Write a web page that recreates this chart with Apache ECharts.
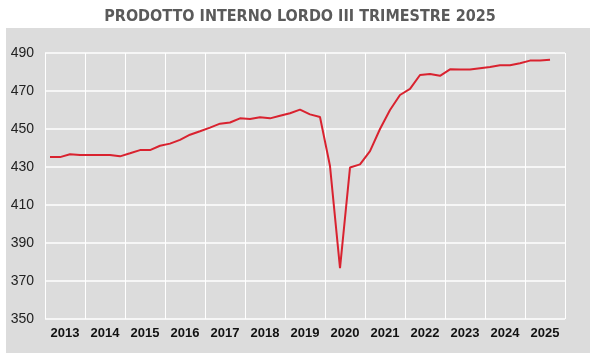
<!DOCTYPE html>
<html>
<head>
<meta charset="utf-8">
<script src="https://cdn.jsdelivr.net/npm/echarts@6/dist/echarts.min.js"></script>
<style>html,body{margin:0;padding:0;background:#fff}#c{width:600px;height:360px}</style>
</head>
<body>
<div id="c"></div>
<script>
var titleText = 'PRODOTTO INTERNO LORDO III TRIMESTRE 2025';
var years = ['2013','2014','2015','2016','2017','2018','2019','2020','2021','2022','2023','2024','2025'];
var startYear = 2013;
// Quarterly GDP values, 2013 Q1 .. 2025 Q3
var gdp = [
  435.3, 435.2, 436.7, 436.3,
  436.3, 436.3, 436.3, 435.6,
  437.2, 438.9, 438.9, 441.2,
  442.3, 444.3, 447.0, 448.8,
  450.7, 452.8, 453.4, 455.6,
  455.3, 456.2, 455.6, 457.0,
  458.3, 460.2, 457.7, 456.3,
  430.5, 376.8, 429.7, 431.4,
  438.4, 450.0, 460.0, 467.9,
  471.1, 478.4, 479.0, 478.0,
  481.4, 481.3, 481.3, 482.0,
  482.6, 483.5, 483.5, 484.6,
  486.0, 486.0, 486.5
];
var yTicks = { min: 350, max: 490, step: 20 };

var points = gdp.map(function (v, i) { return [startYear + (i + 0.5) / 4, v]; });
var narrow = "'Liberation Sans Narrow', 'Arial Narrow', 'Liberation Sans', Arial, sans-serif";
var cond = "'DejaVu Sans Condensed', 'Liberation Sans', Arial, sans-serif";

var chart = echarts.init(document.getElementById('c'), null, { renderer: 'canvas' });
chart.setOption({
  animation: false,
  backgroundColor: '#ffffff',
  graphic: [{
    type: 'rect', z: -10, silent: true,
    shape: { x: 6, y: 28, width: 584, height: 325 },
    style: { fill: '#dcdcdc' }
  }],
  title: {
    text: titleText, left: 'center', top: 4,
    textStyle: { fontFamily: cond, fontWeight: 'bold', fontSize: 16, color: '#5a5a5a' }
  },
  grid: { left: 45, right: 35, top: 53, bottom: 41 },
  xAxis: [{
    type: 'value', min: startYear, max: startYear + years.length, interval: 1,
    axisLabel: { show: false }, axisTick: { show: false }, axisLine: { show: false },
    splitLine: { show: true, lineStyle: { color: '#ffffff', width: 1 } }
  }, {
    type: 'category', data: years, boundaryGap: true, position: 'bottom',
    axisLabel: { fontFamily: narrow, fontWeight: 'bold', fontSize: 13, color: '#111', margin: 8 },
    axisTick: { show: false }, axisLine: { show: false }, splitLine: { show: false }
  }],
  yAxis: {
    type: 'value', min: yTicks.min, max: yTicks.max, interval: yTicks.step,
    axisLabel: { fontFamily: narrow, fontSize: 14, color: '#222', margin: 11 },
    axisTick: { show: false }, axisLine: { show: false },
    splitLine: { show: true, lineStyle: { color: '#ffffff', width: 1.5 } }
  },
  series: [{
    type: 'line', xAxisIndex: 0, data: points, showSymbol: false,
    lineStyle: { color: '#d9222f', width: 2 }, itemStyle: { color: '#d9222f' }
  }]
});
</script>
</body>
</html>
